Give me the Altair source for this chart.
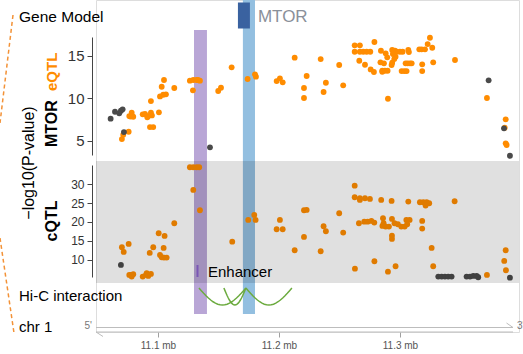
import altair as alt
import pandas as pd

# ---------------- data ----------------
# MTOR eQTL: significant (orange) and non-significant (grey) SNPs, position in mb, -log10(P)
eqtl_sig_mb = [11.0702, 11.0713, 11.0758, 11.0763, 11.0783, 11.0796, 11.0773, 11.0874, 11.0893, 11.0920,
               11.0912, 11.0942, 11.0950, 11.1008, 11.0934, 11.0961, 11.0942, 11.1017, 11.1044, 11.1066,
               11.1031, 11.1050, 11.1135, 11.1264, 11.1292, 11.1320, 11.1347, 11.1331, 11.1289, 11.1498,
               11.1521, 11.1609, 11.1741, 11.1802, 11.1810, 11.1981, 11.2008, 11.2031, 11.2130, 11.2229,
               11.2207, 11.2207, 11.2345, 11.2369, 11.2388, 11.2498, 11.2531, 11.2626, 11.2669, 11.2626,
               11.2669, 11.2697, 11.2725, 11.2755, 11.2664, 11.2711, 11.2758, 11.2785, 11.2789, 11.2843,
               11.2839, 11.2854, 11.2882, 11.2895, 11.2868, 11.2936, 11.2959, 11.2973, 11.3000, 11.3022,
               11.2942, 11.2964, 11.2953, 11.2936, 11.2931, 11.2901, 11.2854, 11.2876, 11.2898, 11.3069,
               11.3074, 11.3047, 11.3064, 11.3083, 11.3097, 11.3014, 11.3036, 11.3055, 11.3160, 11.3179,
               11.3207, 11.3229, 11.3248, 11.3267, 11.3184, 11.3184, 11.3275, 11.3455, 11.3719, 11.3874,
               11.3866, 11.3874, 11.3882]
eqtl_sig_p = [5.22, 5.73, 6.08, 7.92, 8.31, 7.84, 7.86, 8.12, 8.16, 7.92,
              7.77, 8.31, 8.00, 8.36, 6.63, 6.63, 9.68, 10.23, 10.42, 10.47,
              11.36, 12.15, 11.21, 12.07, 12.15, 12.15, 12.07, 12.15, 10.94, 10.86,
              11.24, 13.64, 12.27, 12.82, 12.54, 12.03, 12.35, 11.88, 14.77, 12.62,
              11.21, 10.04, 14.61, 10.74, 11.83, 13.91, 11.53, 16.22, 16.22, 15.47,
              15.47, 15.47, 15.47, 15.47, 14.41, 13.94, 13.40, 13.09, 16.61, 15.59,
              14.23, 13.12, 15.28, 14.81, 14.11, 15.67, 15.59, 15.47, 15.47, 15.47,
              15.20, 14.88, 14.61, 14.18, 13.91, 9.95, 13.24, 13.24, 13.24, 15.67,
              15.43, 14.11, 14.11, 14.11, 14.11, 13.20, 13.20, 13.20, 15.75, 15.75,
              15.75, 16.37, 17.11, 15.94, 13.99, 13.20, 14.23, 14.50, 10.04, 7.54,
              6.55, 4.72, 4.52]
eqtl_ns_mb = [11.0609, 11.0645, 11.0680, 11.0694, 11.0708, 11.0719, 11.1430, 11.3733, 11.3860, 11.3909]
eqtl_ns_p = [7.61, 8.43, 8.24, 8.54, 8.71, 6.04, 4.25, 12.11, 6.48, 3.26]

# cQTL
cqtl_sig_mb = [11.0702, 11.0717, 11.0758, 11.0763, 11.0783, 11.0796, 11.0777, 11.0874, 11.0901, 11.0920,
               11.0942, 11.0907, 11.0932, 11.0961, 11.1006, 11.1055, 11.1047, 11.1017, 11.1031, 11.1050,
               11.1072, 11.1135, 11.1264, 11.1292, 11.1320, 11.1341, 11.1292, 11.1347, 11.1614, 11.1746,
               11.1796, 11.1807, 11.2008, 11.1981, 11.2031, 11.2207, 11.2229, 11.2207, 11.2130, 11.2345,
               11.2369, 11.2388, 11.2498, 11.2531, 11.2626, 11.2626, 11.2669, 11.2669, 11.2711, 11.2752,
               11.2845, 11.2931, 11.3069, 11.3165, 11.3193, 11.3221, 11.3242, 11.3212, 11.3452, 11.2661,
               11.2705, 11.2733, 11.2764, 11.2788, 11.2860, 11.2865, 11.2882, 11.2909, 11.2855, 11.2934,
               11.2955, 11.2983, 11.3011, 11.3039, 11.3053, 11.3080, 11.3060, 11.3184, 11.3184, 11.2934,
               11.2934, 11.3262, 11.2789, 11.2964, 11.2901, 11.2628, 11.3275, 11.3719, 11.3874, 11.3862,
               11.3876]
cqtl_sig_p = [13.29, 12.05, 14.17, 5.95, 5.50, 6.13, 5.95, 5.50, 5.95, 5.68,
              6.21, 6.40, 11.78, 13.29, 17.01, 16.29, 13.11, 11.25, 10.64, 10.54,
              10.54, 19.66, 34.51, 34.51, 34.51, 34.51, 28.49, 23.11, 14.78, 20.53,
              21.86, 20.53, 20.53, 18.07, 18.07, 23.11, 23.18, 16.03, 12.50, 12.23,
              18.86, 17.54, 22.31, 17.17, 29.63, 26.55, 26.29, 25.84, 26.29, 26.10,
              25.84, 25.57, 25.39, 25.23, 25.23, 25.23, 24.96, 24.33, 25.49, 19.66,
              20.08, 20.08, 20.27, 19.82, 20.98, 19.66, 18.76, 18.76, 18.94, 20.80,
              19.66, 19.39, 18.76, 18.76, 20.53, 20.53, 19.39, 20.27, 18.23, 16.37,
              15.49, 13.11, 9.58, 8.26, 6.82, 7.62, 8.26, 5.95, 12.50, 9.66,
              7.19]
cqtl_ns_mb = [11.0694, 11.3317, 11.3345, 11.3372, 11.3399, 11.3427, 11.3551, 11.3579, 11.3606, 11.3634,
              11.3647, 11.3909]
cqtl_ns_p = [8.60, 5.50, 5.50, 5.50, 5.50, 5.50, 5.50, 5.50, 5.68, 5.68,
             5.34, 5.23]

enhancer_region = [11.1298, 11.1405]
promoter_region = [11.1702, 11.1802]
gene_name = ["MTOR"]
gene_start = [11.1661]
gene_end = [11.1760]
hic_start = [11.1339, 11.1545, 11.1727]
hic_end = [11.1727, 11.1727, 11.2107]
x_ticks = [11.1, 11.2, 11.3]
eqtl_ticks = [5, 10, 15]
cqtl_ticks = [10, 15, 20, 25, 30]

ORANGE = "#ff8c00"
GREY = "#4a4a4a"
FONT = "Liberation Sans"

# ---------------- scales / helpers ----------------
xscale = alt.Scale(domain=[11.0488, 11.3984], nice=False, zero=False)
xaxis = alt.Axis(values=x_ticks, labelExpr="format(datum.value, '.1f') + ' mb'", title=None,
                 domain=False, grid=False, tickSize=5, tickColor="#a0a0a0", labelColor="#555555",
                 labelFontSize=10, labelPadding=3, labelFont=FONT)


def X(field):
    return alt.X(field, type="quantitative", scale=xscale, axis=xaxis)


one = pd.DataFrame({"k": [0]})


def label(text, x, y, **kw):
    return alt.Chart(pd.DataFrame({"t": [text]})).mark_text(font=FONT, **kw).encode(
        text="t:N", x=alt.value(x), y=alt.value(y))


eq_df = pd.concat([
    pd.DataFrame({"mb": eqtl_sig_mb, "p": eqtl_sig_p, "grp": "sig"}),
    pd.DataFrame({"mb": eqtl_ns_mb, "p": eqtl_ns_p, "grp": "ns"}),
], ignore_index=True)
cq_df = pd.concat([
    pd.DataFrame({"mb": cqtl_sig_mb, "p": cqtl_sig_p, "grp": "sig"}),
    pd.DataFrame({"mb": cqtl_ns_mb, "p": cqtl_ns_p, "grp": "ns"}),
], ignore_index=True)

color = alt.Color("grp:N", scale=alt.Scale(domain=["sig", "ns"], range=[ORANGE, GREY]), legend=None)

# bands
enh_df = pd.DataFrame({"start": [enhancer_region[0]], "end": [enhancer_region[1]]})
pro_df = pd.DataFrame({"start": [promoter_region[0]], "end": [promoter_region[1]]})
gene_df = pd.DataFrame({"name": gene_name, "start": gene_start, "end": gene_end})

enh_band = alt.Chart(enh_df).mark_rect(color="#b9a6d6").encode(
    x=X("start"), x2="end", y=alt.value(30), y2=alt.value(314))
pro_band = alt.Chart(pro_df).mark_rect(color="#93bfe0").encode(
    x=X("start"), x2="end", y=alt.value(0), y2=alt.value(314))
gene_rect = alt.Chart(gene_df).mark_rect(color="#3a62a0").encode(
    x=X("start"), x2="end", y=alt.value(2.5), y2=alt.value(28.5))
gene_text = alt.Chart(gene_df).mark_text(align="left", baseline="middle", dx=8, fontSize=17,
                                         color="#8a9099", font=FONT).encode(
    x=X("end"), y=alt.value(17), text="name:N")

eqtl = alt.Chart(eq_df).mark_circle(size=34, opacity=1).encode(
    x=X("mb"),
    y=alt.Y("p:Q", scale=alt.Scale(domain=[3.35, 17.2], range=[155, 37], nice=False, zero=False),
            axis=alt.Axis(orient="left", values=eqtl_ticks, title=None, offset=4, grid=False,
                          tickSize=5, labelFontSize=15, labelPadding=3, domainColor="#444444",
                          tickColor="#444444", labelColor="#333333", labelFont=FONT)),
    color=color)

cqtl = alt.Chart(cq_df).mark_circle(size=34, opacity=1).encode(
    x=X("mb"),
    y=alt.Y("p:Q", scale=alt.Scale(domain=[5.4, 35.1], range=[277, 165], nice=False, zero=False),
            axis=alt.Axis(orient="left", values=cqtl_ticks, title=None, offset=4, grid=False,
                          tickSize=5, labelFontSize=12, labelPadding=3, domainColor="#444444",
                          tickColor="#444444", labelColor="#333333", labelFont=FONT)),
    color=color)

overlay = alt.Chart(one).mark_rect(color="black", opacity=0.12).encode(
    x=alt.value(0), x2=alt.value(423), y=alt.value(161), y2=alt.value(283))

enh_bar = alt.Chart(one).mark_rule(color="#7b57b5", strokeWidth=2).encode(
    x=alt.value(101.5), y=alt.value(265), y2=alt.value(277))
enh_text = label("Enhancer", 112, 272, align="left", baseline="middle", fontSize=15, color="black")

hic_df = pd.DataFrame({"id": [0, 1, 2], "start": hic_start, "end": hic_end})
arcs = alt.Chart(hic_df).transform_calculate(
    t="sequence(0, 1.0001, 0.05)"
).transform_flatten(["t"]).transform_calculate(
    pos="datum.start + (datum.end - datum.start) * datum.t",
    depth="sin(PI * datum.t)"
).mark_line(color="#6cab3f", strokeWidth=1.5).encode(
    x=X("pos"),
    y=alt.Y("depth:Q", scale=alt.Scale(domain=[0, 1], range=[288, 305]), axis=None),
    detail="id:N", order="t:Q")

# chromosome strands
strand_col = "#bdbdbd"
top_strand = alt.Chart(one).mark_rule(color=strand_col, strokeWidth=1).encode(
    x=alt.value(0), x2=alt.value(417), y=alt.value(327.5))
bot_strand = alt.Chart(one).mark_rule(color=strand_col, strokeWidth=1).encode(
    x=alt.value(0), x2=alt.value(417), y=alt.value(332))
top_barb = alt.Chart(one).mark_rule(color=strand_col, strokeWidth=1).encode(
    x=alt.value(410.5), x2=alt.value(417), y=alt.value(323), y2=alt.value(327.5))
bot_barb = alt.Chart(one).mark_rule(color=strand_col, strokeWidth=1).encode(
    x=alt.value(0), x2=alt.value(7), y=alt.value(332), y2=alt.value(336.5))
five = label("5'", -4, 326, align="right", baseline="middle", fontSize=10, color="#777777")
three = label("3'", 421, 326, align="left", baseline="middle", fontSize=10, color="#777777")

# left labels
gm = label("Gene Model", -77, 17, align="left", baseline="middle", fontSize=15.5, color="black")
hic = label("Hi-C interaction", -77, 296, align="left", baseline="middle", fontSize=15, color="black")
chr1 = label("chr 1", -77, 327, align="left", baseline="middle", fontSize=15, color="black")
ytitle = label("\u2212log10(P-value)", -67, 163, align="center", baseline="middle", angle=270,
               fontSize=16, color="black")
mtor_t = label("MTOR", -44, 147, align="left", baseline="middle", angle=270, fontSize=16,
               fontWeight="bold", color="black")
eqtl_t = label("eQTL", -44, 91, align="left", baseline="middle", angle=270, fontSize=15,
               fontWeight="bold", color=ORANGE)
cqtl_t = label("cQTL", -44, 221, align="center", baseline="middle", angle=270, fontSize=16,
               fontWeight="bold", color="black")

dash1 = alt.Chart(one).mark_rule(color="#f39237", strokeWidth=1.5, strokeDash=[4, 3]).encode(
    x=alt.value(-83), y=alt.value(15), x2=alt.value(-96), y2=alt.value(123))
dash2 = alt.Chart(one).mark_rule(color="#f39237", strokeWidth=1.5, strokeDash=[4, 3]).encode(
    x=alt.value(-96), y=alt.value(238), x2=alt.value(-82), y2=alt.value(333))

chart = alt.layer(
    enh_band, pro_band, gene_rect, gene_text, eqtl, cqtl, overlay, enh_bar, enh_text, arcs,
    top_strand, bot_strand, top_barb, bot_barb, five, three,
    gm, hic, chr1, ytitle, mtor_t, eqtl_t, cqtl_t, dash1, dash2
).resolve_scale(y="independent").properties(
    width=423, height=332,
    autosize=alt.AutoSizeParams(type="none"),
    padding={"left": 96, "top": 0, "right": 4, "bottom": 22},
).configure_view(stroke=None).configure(font=FONT)

chart.save("out.html", embed_options={"renderer": "svg", "actions": False})
